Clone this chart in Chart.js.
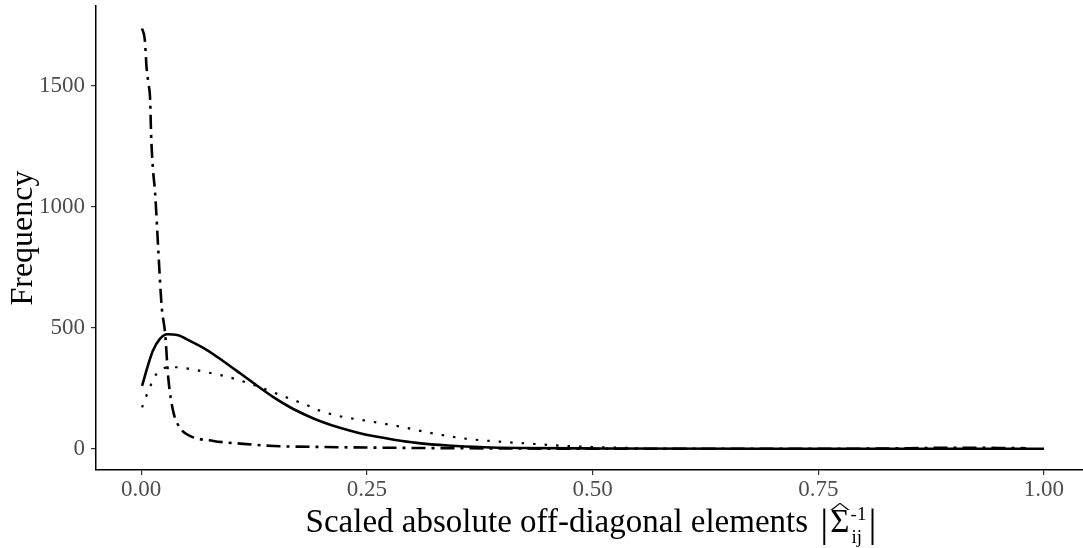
<!DOCTYPE html>
<html>
<head>
<meta charset="utf-8">
<script src="https://cdn.jsdelivr.net/npm/chart.js@4.4.1/dist/chart.umd.min.js"></script>
<style>
  body { margin: 0; background: #fff; }
  canvas { display: block; }
</style>
</head>
<body>
<canvas id="freq" width="1083" height="548"></canvas>
<script>
  // x ticks / y ticks
  const xTicks = [0, 0.25, 0.5, 0.75, 1];
  const yTicks = [0, 500, 1000, 1500];

  // solid curve
  const solidX = [0.001, 0.008, 0.013, 0.021, 0.029, 0.04, 0.054, 0.073, 0.091, 0.11, 0.128, 0.146, 0.165, 0.184, 0.2, 0.22, 0.24, 0.26, 0.28, 0.305, 0.34, 0.38, 0.42, 0.5, 0.7, 1.0];
  const solidY = [260, 350, 405, 455, 473, 470, 446, 408, 362, 311, 262, 215, 172, 137, 112, 87, 67, 51, 38, 25, 14, 7, 4, 2, 1, 1];

  // dotted curve
  const dottedX = [0.001, 0.008, 0.017, 0.028, 0.04, 0.054, 0.073, 0.091, 0.11, 0.128, 0.146, 0.165, 0.184, 0.2, 0.22, 0.25, 0.287, 0.323, 0.36, 0.397, 0.434, 0.471, 0.527, 0.55];
  const dottedY = [171, 240, 310, 336, 337, 330, 316, 302, 282, 260, 234, 207, 180, 155, 135, 116, 92, 64, 42, 30, 21, 12, 5, 3];

  // dash-dot curve
  const dashDotX = [0.001, 0.004, 0.006, 0.008, 0.010, 0.011, 0.013, 0.0155, 0.019, 0.0227, 0.0266, 0.030, 0.0354, 0.043, 0.054, 0.08, 0.113, 0.147, 0.2, 0.3, 0.4, 0.5, 0.6, 0.7, 0.8, 0.85, 0.9, 0.95, 0.98];
  const dashDotY = [1735, 1690, 1575, 1510, 1440, 1300, 1160, 1055, 820, 590, 475, 295, 157, 87, 54, 33, 21, 12, 8, 4, 2, 1, 1, 1, 1, 3, 5, 4, 3];

  const yTitle = 'Frequency';
  const xTitleText = 'Scaled absolute off-diagonal elements';
  const xTitleSymbol = 'Σ';
  const xTitleSup = '-1';
  const xTitleSub = 'ij';

  const toPoints = (xs, ys) => xs.map((x, i) => ({ x: x, y: ys[i] }));
  const serif = '"Liberation Serif", "Times New Roman", serif';

  // draws the x-axis title with the little matrix symbol
  const xTitlePlugin = {
    id: 'xTitle',
    afterDraw(chart) {
      const ctx = chart.ctx;
      ctx.save();
      ctx.fillStyle = '#000';
      ctx.textAlign = 'left';
      ctx.textBaseline = 'alphabetic';
      const base = 532;
      const mainFont = '33px ' + serif;
      const barFont = '40px ' + serif;
      const smallFont = '19px ' + serif;

      ctx.font = mainFont;
      const wMain = ctx.measureText(xTitleText + ' ').width;
      const wSig = ctx.measureText(xTitleSymbol).width;
      ctx.font = barFont;
      const wBar = ctx.measureText('|').width;
      ctx.font = smallFont;
      const wScr = Math.max(ctx.measureText(xTitleSup).width, ctx.measureText(xTitleSub).width);

      const total = wMain + 4 + wBar + 2 + wSig + 1 + wScr + 2 + wBar;
      let x = 591 - total / 2;

      ctx.font = mainFont;
      ctx.fillText(xTitleText, x, base);
      x += wMain + 4;
      ctx.font = barFont;
      ctx.fillText('|', x, base + 4);
      x += wBar + 2;
      ctx.font = mainFont;
      ctx.fillText(xTitleSymbol, x, base);
      // hat over sigma
      ctx.save();
      ctx.translate(x + wSig / 2, 512.5);
      ctx.scale(wSig * 1.05 / 12, 0.6);
      ctx.font = '26px ' + serif;
      ctx.textAlign = 'center';
      ctx.fillText('^', 0, 0);
      ctx.restore();
      x += wSig + 1;
      ctx.font = smallFont;
      ctx.fillText(xTitleSup, x, base - 12);
      ctx.fillText(xTitleSub, x + 1, base + 11);
      x += wScr + 2;
      ctx.font = barFont;
      ctx.fillText('|', x, base + 4);
      ctx.restore();
    }
  };

  const lineStyle = {
    fill: false,
    pointRadius: 0,
    borderColor: '#000',
    borderCapStyle: 'butt',
    cubicInterpolationMode: 'monotone',
  };

  new Chart('freq', {
    type: 'line',
    data: {
      datasets: [
        Object.assign({ data: toPoints(dashDotX, dashDotY), borderWidth: 2.6, borderDash: [14, 6, 3, 6] }, lineStyle),
        Object.assign({ data: toPoints(dottedX, dottedY), borderWidth: 2.2, borderDash: [2.5, 9] }, lineStyle),
        Object.assign({ data: toPoints(solidX, solidY), borderWidth: 2.6 }, lineStyle),
      ],
    },
    options: {
      responsive: false,
      animation: false,
      layout: { padding: { top: 6, right: 0, left: 0, bottom: 0 } },
      plugins: { legend: { display: false }, tooltip: { enabled: false } },
      scales: {
        x: {
          type: 'linear',
          min: -0.05,
          max: 1.0432,
          afterBuildTicks: (scale) => { scale.ticks = xTicks.map((v) => ({ value: v })); },
          afterFit: (scale) => {
            scale.height = 78;
            scale.paddingLeft = 0;
            scale.paddingRight = 0;
          },
          ticks: {
            color: '#4d4d4d',
            font: { family: serif, size: 23 },
            padding: 1,
            maxRotation: 0,
            callback: (v) => Number(v).toFixed(2),
          },
          grid: { drawOnChartArea: false, drawTicks: true, tickLength: 5, tickColor: '#333', lineWidth: 1.2 },
          border: { display: true, color: '#000', width: 1.5 },
          title: { display: false },
        },
        y: {
          min: -87,
          max: 1828,
          afterBuildTicks: (scale) => { scale.ticks = yTicks.map((v) => ({ value: v })); },
          afterFit: (scale) => {
            scale.width = 96;
            scale.paddingTop = 0;
            scale.paddingBottom = 0;
          },
          ticks: {
            color: '#4d4d4d',
            font: { family: serif, size: 23 },
            padding: 6,
            callback: (v) => String(v),
          },
          grid: { drawOnChartArea: false, drawTicks: true, tickLength: 5, tickColor: '#333', lineWidth: 1.2 },
          border: { display: true, color: '#000', width: 1.5 },
          title: {
            display: true,
            text: yTitle,
            color: '#000',
            font: { family: serif, size: 32 },
            padding: { top: 4, bottom: 0 },
          },
        },
      },
    },
    plugins: [xTitlePlugin],
  });
</script>
</body>
</html>
